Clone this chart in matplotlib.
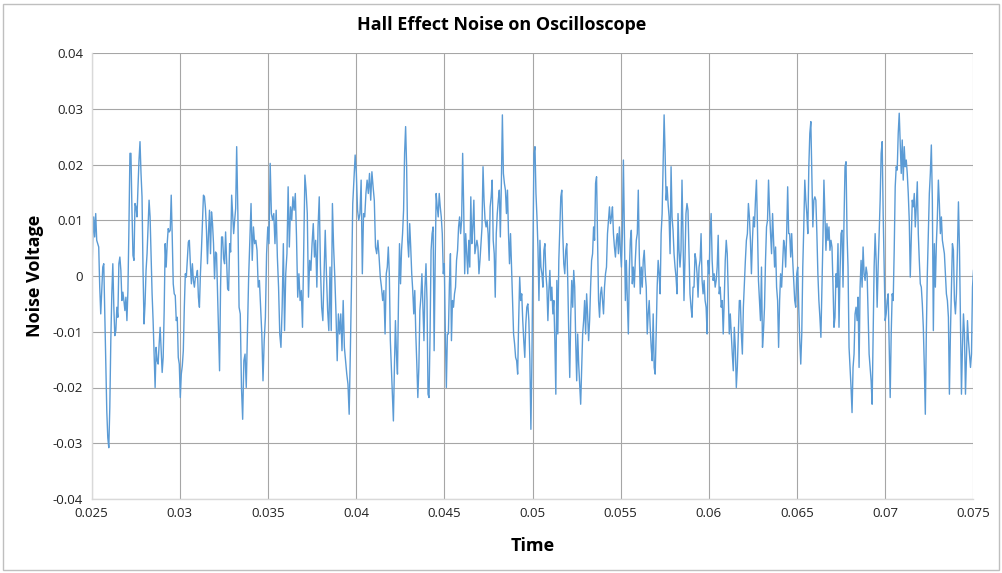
import numpy as np
import matplotlib
matplotlib.use("Agg")
import matplotlib.pyplot as plt
from matplotlib.patches import Rectangle

# Segment start times (s); last entry is the end of the trace
segment_bounds = [0.02501, 0.03323, 0.04171, 0.05014, 0.05870, 0.06692, 0.07500]

# Noise voltage readings (mV), one list per segment
noise_seg1 = [-3.2, 6.4, 10.6, 7.0, 11.2, 6.4, 5.8, 5.2, -2.0, -6.8, -2.6, 1.6, 2.2, -6.8, -15.8, -24.2,
              -29.0, -30.8, -23.6, -11.6, -3.2, 2.2, -5.6, -10.7, -9.8, -5.6, -7.4, 2.2, 3.4, 1.0, -4.4,
              -2.9, -4.4, -6.2, -3.8, -8.0, -2.6, 8.8, 22.0, 22.0, 11.8, 3.7, 2.8, 13.0, 12.4, 10.6, 16.0,
              20.8, 24.1, 18.4, 14.2, 1.0, -8.6, -5.0, 1.0, 4.0, 8.8, 13.6, 10.6, 3.4, -3.2, -8.0, -14.0,
              -20.0, -12.8, -15.2, -15.8, -12.2, -9.2, -13.4, -17.3, -14.6, -6.2, 5.8, 1.6, 5.8, 8.5, 7.9,
              8.2, 14.5, 7.0, -1.4, -3.2, -3.5, -8.0, -7.4, -14.6, -15.8, -21.8, -17.6, -16.1, -13.4, -5.6,
              0.4, -0.2, 2.8, 6.1, 6.4, 2.2, -1.4, 2.2, -0.8, -2.0, -0.2, -0.2, 1.0, -3.8, -5.6, 0.4, 4.6,
              9.4, 14.5, 14.2, 12.1, 8.2, 2.2, 7.6, 11.8, 4.0, 11.5, 9.4, 5.8, -0.5, 4.3, 4.0, -3.2, -11.0,
              -17.0, -2.0, 7.0, 7.0, 3.1, 2.2, 7.9, 2.8, -2.3, -2.6, 5.8, 4.3, 14.5, 11.2, 7.6, 10.0, 12.1]

noise_seg2 = [23.2, 11.2, -5.6, -6.8, -20.0, -25.7, -15.2, -14.0, -20.0, -10.4, -0.2, 6.4, 13.0, 2.8, 8.8,
              5.8, 6.4, 4.6, -2.0, -0.8, -5.6, -10.4, -18.8, -11.6, -7.4, 4.0, 8.8, 5.8, 20.2, 11.2, 10.0,
              11.2, 5.8, 11.8, 3.4, -2.0, -10.4, -12.8, -5.6, 5.8, -9.8, 0.4, 4.0, 16.0, 5.2, 12.4, 10.0,
              14.2, 11.8, 14.8, 7.0, -3.8, 0.4, -4.4, -2.6, -9.2, 4.6, 18.1, 15.4, 11.2, -3.8, 2.8, 1.0,
              5.8, 9.4, 3.4, 6.4, -2.0, 8.8, 14.2, 1.6, -5.6, -8.0, 0.4, 8.2, 0.4, -6.2, -9.8, 1.6, -9.8,
              13.0, 5.2, -0.2, -6.8, -15.2, -6.8, -10.4, -6.8, -13.4, -4.4, -12.8, -15.2, -17.6, -19.4,
              -24.8, -13.4, -0.8, 13.0, 17.2, 21.7, 18.4, 11.8, 10.0, 11.2, 17.2, 0.4, 11.2, 10.6, 14.8,
              17.2, 14.8, 18.4, 13.6, 18.7, 16.0, 13.6, 5.2, 4.0, 6.4, 3.4, -0.2, -2.0, -4.4, -2.6, -10.4]

noise_seg3 = [0.4, 1.6, 5.2, 0.4, -11.6, -16.4, -21.2, -26.0, -16.4, -8.0, -14.0, -17.6, -4.4, 5.8, -1.4,
              4.6, 7.6, 11.8, 22.0, 26.8, 19.6, 6.4, 3.4, 9.4, 5.2, 0.4, -2.6, -6.8, -2.6, -10.4, -15.8,
              -21.8, -16.4, -6.2, -3.8, 0.4, -5.6, -11.6, -2.0, 2.2, -4.4, -21.2, -21.8, -10.4, 4.6, 7.6,
              8.8, -13.4, 2.2, 14.8, 12.4, 10.6, 14.8, 12.4, 10.6, 7.6, 0.4, 2.2, -10.4, -20.0, -10.4,
              -10.4, -1.4, 4.0, -11.6, -4.4, -5.6, -3.2, -2.0, 2.8, 4.6, 8.8, 10.6, 7.6, 10.0, 22.0, 12.4,
              0.4, 7.6, 4.0, 0.4, 6.4, 1.6, 14.2, 5.8, 8.8, 13.6, 4.0, 5.2, 6.4, 5.2, 0.4, 2.8, 5.8, 8.8,
              19.6, 13.6, 10.0, 8.8, 10.0, 7.6, 2.8, 12.4, 14.2, 17.2, 6.4, 4.0, -3.8, 7.6, 11.2, 13.6,
              15.4, 7.0, 16.6, 28.9, 18.4, 16.6, 15.4, 11.2, 15.4, 7.6, 2.2, 7.6, 1.6, -4.4, -10.4, -12.2,
              -14.6, -15.2, -17.6, -8.0, -0.2, -4.4, -3.2, -8.0, -11.6, -14.6, -8.6, -5.6, -5.0, -8.0,
              -15.2, -27.5, -15.2, 4.6, 22.0]

noise_seg4 = [23.2, 14.8, 10.6, 5.2, -4.4, 6.4, 1.6, 0.4, -2.0, 4.6, 5.8, 0.4, -2.0, -8.0, -2.6, 1.0, -4.4,
              -2.0, -6.8, -4.4, -11.6, -21.2, -0.8, -10.4, 2.8, 8.2, 14.2, 15.4, 7.6, 2.2, 0.4, 4.6, 5.8,
              -0.8, -10.4, -18.2, -7.4, -0.8, -5.6, 1.0, -2.0, -11.6, -18.8, -10.4, -15.8, -19.4, -23.0,
              -16.4, -10.4, -8.0, -4.4, -10.4, -3.2, -6.8, -11.6, -8.0, -2.0, 2.8, 4.0, 8.8, 6.4, 16.6,
              17.8, 6.4, -4.4, -7.4, -3.2, -2.0, -4.4, -6.8, -2.0, 0.4, 1.6, 7.6, 10.0, 12.4, 9.4, 10.6,
              12.4, 7.6, 5.2, 3.4, 6.4, 7.6, 4.0, 8.8, 4.6, 1.6, 7.6, 20.8, 7.6, -4.4, 2.8, -4.4, -10.4,
              1.0, 6.4, 8.2, -1.4, 1.6, -2.0, 2.8, 6.4, 7.6, 15.4, 4.0, -3.2, 1.6, -2.0, 2.8, 4.6, 0.4,
              -2.0, -10.4, -6.8, -4.4, -9.2, -12.8, -15.2, -6.8, -16.4, -17.6, -10.4, -2.0, 2.8, 0.4,
              -3.2, 7.6, 11.2, 19.6, 28.9, 22.0, 13.6, 16.0, 13.0, 10.6, 4.0, 19.6, 10.6, 8.2, 4.0, 1.6,
              -0.2, -3.2, 11.2, 4.6, 1.6, 4.6, 17.2, 7.6, -4.4, 2.8]

noise_seg5 = [11.2, 13.0, 11.8, 4.6, -3.2, -5.6, -7.4, -2.0, -2.0, 4.0, 2.8, 0.4, -3.8, 1.6, 2.8, 7.6, -0.8,
              -3.2, -0.8, -4.4, -5.6, -10.4, 2.8, 0.4, 7.6, 11.2, 2.8, -0.8, 0.4, -2.0, -0.8, 1.6, 7.3,
              -3.2, -2.0, -5.6, -4.4, -10.4, -4.4, 2.8, 6.4, 4.0, -3.2, -10.4, -6.8, -10.4, -14.0, -17.0,
              -9.2, -12.8, -20.0, -16.4, -10.4, -4.4, -4.4, -10.4, -14.0, -5.6, -1.4, 2.8, 6.4, 7.6, 13.0,
              10.6, 6.4, 0.4, 6.4, 10.6, 8.8, 13.6, 17.2, 8.8, -0.8, -4.4, -8.0, 1.6, -12.8, -9.8, -5.6,
              2.8, 8.8, 10.0, 17.2, 11.8, 7.6, 4.0, 11.2, 6.4, 1.6, 5.2, -2.0, -4.4, -12.8, -4.4, 0.4,
              -2.0, 2.2, 6.4, 5.2, 1.6, 7.6, 16.0, 7.6, 7.6, 3.4, 7.6, 2.8, -0.8, -4.4, -5.6, 0.4, 1.6,
              -5.6, -11.6, -15.8, -10.4, 1.6, 8.8, 17.2, 13.6, 11.2, 7.6, 19.6, 25.6, 27.7, 18.4, 8.8,
              13.6, 14.2, 13.6, 7.6, 0.4, -4.4, -7.4, -11.0, -2.0, 6.4, 17.2, 11.2, 4.6, 9.4, 6.4, 8.8,
              4.6]

noise_seg6 = [6.4, 5.2, -1.4, -9.2, -7.4, 0.4, -2.0, 5.8, -9.2, 0.4, 7.6, 8.2, -2.0, 10.0, 19.6, 20.5,
              7.6, 1.6, -12.8, -16.4, -20.0, -24.5, -16.4, -14.0, -6.8, -5.6, -8.0, -3.8, -16.4, -2.0,
              2.8, -2.0, 5.2, 0.4, -0.8, 1.6, 0.4, -6.8, -14.0, -16.4, -18.8, -23.0, -10.4, 1.6, 7.6,
              2.8, -5.6, 1.6, 7.6, 13.6, 22.0, 24.1, 11.2, 1.6, -8.0, -6.8, -4.4, -3.2, -12.2, -21.8,
              -10.4, -3.2, -4.4, 4.6, 16.0, 19.6, 19.0, 25.6, 29.2, 23.8, 18.4, 24.4, 17.2, 23.2, 19.6,
              20.8, 18.4, 14.8, 10.0, -0.2, 6.4, 13.6, 12.4, 14.8, 8.8, 12.4, 16.9, 7.6, 2.8, -1.4,
              -2.0, -5.0, -9.2, -16.4, -24.8, -10.4, 0.4, 7.6, 14.8, 18.4, 23.5, 13.6, -9.8, 5.8, -2.0,
              5.8, 10.6, 17.2, 13.0, 7.6, 10.6, 6.4, 5.2, 4.0, 0.4, -3.2, -4.4, -7.4, -21.2, -10.4, -2.0,
              5.8, 4.6, -4.4, -6.8, -3.2, 4.6, 13.3, 5.2, -8.6, -21.2, -12.8, -6.8, -10.4, -21.2, -14.6,
              -8.0, -11.6, -14.0, -16.4, -14.0, -2.0, 1.0]

segments = [noise_seg1, noise_seg2, noise_seg3, noise_seg4, noise_seg5, noise_seg6]

time_parts = []
volt_parts = []
for i, seg in enumerate(segments):
    last = (i == len(segments) - 1)
    t = np.linspace(segment_bounds[i], segment_bounds[i + 1], len(seg), endpoint=last)
    time_parts.append(t)
    volt_parts.append(np.array(seg) / 1000.0)
time = np.concatenate(time_parts)
voltage = np.concatenate(volt_parts)

x_ticks = [0.025, 0.03, 0.035, 0.04, 0.045, 0.05, 0.055, 0.06, 0.065, 0.07, 0.075]
x_tick_labels = ["0.025", "0.03", "0.035", "0.04", "0.045", "0.05", "0.055", "0.06", "0.065", "0.07", "0.075"]
y_ticks = [-0.04, -0.03, -0.02, -0.01, 0.0, 0.01, 0.02, 0.03, 0.04]
y_tick_labels = ["-0.04", "-0.03", "-0.02", "-0.01", "0", "0.01", "0.02", "0.03", "0.04"]

plt.rcParams['font.family'] = ['Open Sans', 'DejaVu Sans']

W, H = 1003, 573
fig = plt.figure(figsize=(W / 100, H / 100), dpi=100)
fig.patch.set_facecolor('white')
fig.add_artist(Rectangle((3 / W, 3 / H), (W - 7) / W, (H - 7) / H, transform=fig.transFigure,
                         fill=False, edgecolor='#BFBFBF', linewidth=1.0))

ax = fig.add_axes([91.5 / W, 1 - 499 / H, 882 / W, 446 / H])
ax.plot(time, voltage, color='#5B9BD5', linewidth=1.0)
ax.set_xlim(0.025, 0.075)
ax.set_ylim(-0.04, 0.04)
ax.set_xticks(x_ticks)
ax.set_xticklabels(x_tick_labels)
ax.set_yticks(y_ticks)
ax.set_yticklabels(y_tick_labels)
ax.grid(True, color='#A6A6A6', linewidth=0.8)
ax.set_axisbelow(True)
for side in ['top', 'right']:
    ax.spines[side].set_visible(False)
for side in ['left', 'bottom']:
    ax.spines[side].set_color('#D9D9D9')
    ax.spines[side].set_linewidth(1.0)
ax.tick_params(axis='both', length=0, labelsize=9.5, colors='#222222', pad=6)
ax.set_xlabel('Time', fontsize=13, fontweight='bold', labelpad=12)
ax.set_ylabel('Noise Voltage', fontsize=13, fontweight='bold', labelpad=6)
fig.text(502 / W, 1 - 25 / H, 'Hall Effect Noise on Oscilloscope', ha='center', va='center',
         fontsize=13, fontweight='bold')

fig.savefig('out.png', dpi=100)
